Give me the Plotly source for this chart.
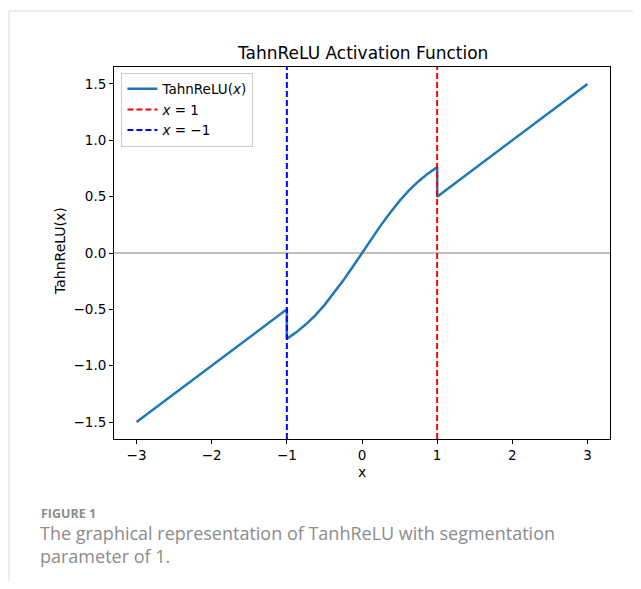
import plotly.graph_objects as go

# Data
curve_x = [-3.0, -1.0, -1.0, -0.875, -0.75, -0.625, -0.5, -0.375, -0.25, -0.125, 0.0,
           0.125, 0.25, 0.375, 0.5, 0.625, 0.75, 0.875, 1.0, 1.0, 3.0]
curve_y = [-1.5, -0.5, -0.762, -0.704, -0.635, -0.555, -0.462, -0.358, -0.245, -0.124, 0.0,
           0.124, 0.245, 0.358, 0.462, 0.555, 0.635, 0.704, 0.762, 0.5, 1.5]
vline_pos = [1, -1]
vline_names = ["<i>x</i> = 1", "<i>x</i> = −1"]
vline_colors = ["#ff0000", "#0000ff"]
x_ticks = [-3, -2, -1, 0, 1, 2, 3]
x_ticklabels = ["−3", "−2", "−1", "0", "1", "2", "3"]
y_ticks = [-1.5, -1.0, -0.5, 0.0, 0.5, 1.0, 1.5]
y_ticklabels = ["−1.5", "−1.0", "−0.5", "0.0", "0.5", "1.0", "1.5"]
x_range = [-3.3, 3.3]
y_range = [-1.65, 1.65]

FONT = "DejaVu Sans"
OFF = 8  # page body margin
FW, FH = 641 - 2 * OFF, 589 - 2 * OFF

fig = go.Figure()
fig.add_trace(go.Scatter(x=curve_x, y=curve_y, mode="lines", name="TahnReLU(<i>x</i>)",
                         line=dict(color="#1f77b4", width=2.5)))
for pos, name, col in zip(vline_pos, vline_names, vline_colors):
    fig.add_trace(go.Scatter(x=[pos, pos], y=y_range, mode="lines", name=name,
                             line=dict(color=col, width=2, dash="6px,3px")))

# plot area pixel frame in page coords: left 114, right 610, top 67, bottom 439
L, R, T, B = 114 - OFF, 610 - OFF, 67 - OFF, 439 - OFF
W, H = R - L, B - T
def px(x): return (x - OFF - L) / W
def py(y): return (B - (y - OFF)) / H

axis_common = dict(showgrid=False, showline=True, linecolor="black", linewidth=1,
                   mirror=True, ticks="outside", ticklen=4, tickcolor="black",
                   tickfont=dict(family=FONT, size=13.5, color="black"))

fig.update_layout(
    width=FW, height=FH,
    margin=dict(l=L, r=FW - R, t=T, b=FH - B),
    paper_bgcolor="white", plot_bgcolor="white",
    showlegend=True,
    legend=dict(x=0.015, y=0.985, xanchor="left", yanchor="top",
                bgcolor="rgba(255,255,255,0.8)", bordercolor="#cccccc", borderwidth=1,
                font=dict(family=FONT, size=13.5, color="black"),
                tracegroupgap=0, itemwidth=30),
    xaxis=dict(range=x_range, tickvals=x_ticks, ticktext=x_ticklabels,
               zeroline=False, **axis_common),
    yaxis=dict(range=y_range, tickvals=y_ticks, ticktext=y_ticklabels,
               zeroline=False, **axis_common),
)

# horizontal zero line
fig.add_shape(type="line", xref="x", yref="y", x0=x_range[0], x1=x_range[1], y0=0, y1=0,
              line=dict(color="gray", width=1), layer="below")

# card border
fig.add_shape(type="line", xref="paper", yref="paper", x0=px(9), x1=px(660), y0=py(11), y1=py(11),
              line=dict(color="#d9d9d9", width=1))
fig.add_shape(type="line", xref="paper", yref="paper", x0=px(9), x1=px(9), y0=py(11), y1=py(600),
              line=dict(color="#d9d9d9", width=1))

ann = [
    dict(text="TahnReLU Activation Function", x=0.5, y=py(53), size=17, angle=0),
    dict(text="TahnReLU(x)", x=px(60), y=py(251), size=14, angle=-90),
    dict(text="x", x=0.5, y=py(472), size=14, angle=0),
]
for a in ann:
    fig.add_annotation(text=a["text"], x=a["x"], y=a["y"], xref="paper", yref="paper",
                       xanchor="center", yanchor="middle", showarrow=False, textangle=a["angle"],
                       font=dict(family=FONT, size=a["size"], color="black"))

fig.add_annotation(text="<b>FIGURE 1</b>", x=px(39), y=py(513), xref="paper", yref="paper",
                   xanchor="left", yanchor="middle", showarrow=False,
                   font=dict(family="Open Sans", size=12.5, color="#8c8c8c"))
fig.add_annotation(text="The graphical representation of TanhReLU with segmentation",
                   x=px(38), y=py(533), xref="paper", yref="paper",
                   xanchor="left", yanchor="middle", showarrow=False,
                   font=dict(family="Open Sans", size=18, color="#8c8c8c"))
fig.add_annotation(text="parameter of 1.",
                   x=px(38), y=py(556), xref="paper", yref="paper",
                   xanchor="left", yanchor="middle", showarrow=False,
                   font=dict(family="Open Sans", size=18, color="#8c8c8c"))

fig.write_html("out.html")
